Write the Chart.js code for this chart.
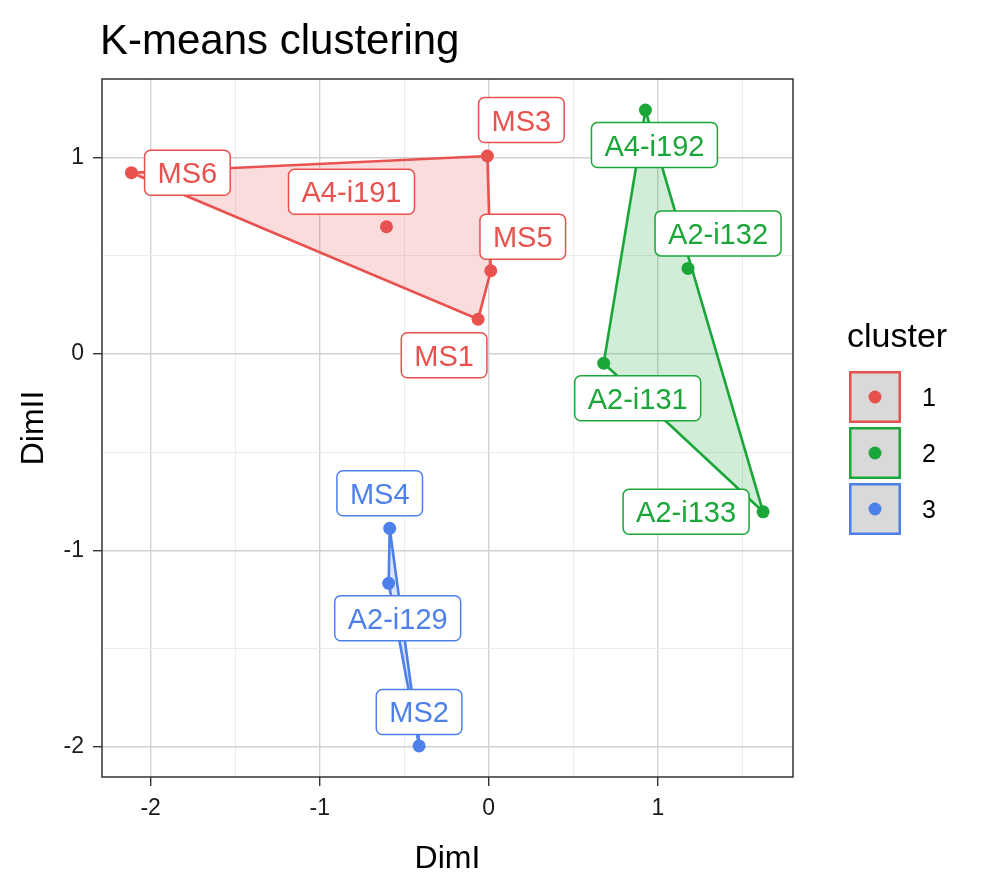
<!DOCTYPE html>
<html>
<head>
<meta charset="utf-8">
<title>K-means clustering</title>
<script src="https://cdn.jsdelivr.net/npm/chart.js@4.4.0/dist/chart.umd.min.js"></script>
<style>
  html, body { margin: 0; padding: 0; background: #fff; }
  #wrap { width: 981px; height: 873px; }
</style>
</head>
<body>
<div id="wrap"><canvas id="kmeansChart"></canvas></div>
<script>
// values
const samples = ['MS6', 'MS3', 'A4-i191', 'MS5', 'MS1', 'A4-i192', 'A2-i132', 'A2-i131', 'A2-i133', 'MS4', 'A2-i129', 'MS2'];
const dimI  = [-2.114, -0.008, -0.605, 0.012, -0.063, 0.927, 1.179, 0.680, 1.623, -0.586, -0.592, -0.412];
const dimII = [0.923, 1.008, 0.648, 0.424, 0.177, 1.242, 0.436, -0.047, -0.803, -0.887, -1.167, -1.995];
const clusterOf = [1, 1, 1, 1, 1, 2, 2, 2, 2, 3, 3, 3];
const clusterIds = [1, 2, 3];
const gridX = [-2, -1.5, -1, -0.5, 0, 0.5, 1, 1.5];
const gridY = [-2, -1.5, -1, -0.5, 0, 0.5, 1];

const FONT = '"Liberation Sans", Arial, Helvetica, sans-serif';
const colors = { 1: '#E8514E', 2: '#1AA638', 3: '#4D80EB' };
const fills = { 1: 'rgba(232,81,78,0.2)', 2: 'rgba(26,166,56,0.2)', 3: 'rgba(77,128,235,0.2)' };

// label box centre relative to its point, in pixels (repel layout)
const labelOffsets = [[56, 0], [34, -36], [-35, -35], [32, -34], [-34, 36], [9, 35], [30, -35], [34, 35], [-77, 0], [-10, -35], [9, 35], [0, -34]];
const labelSegment = [true, false, false, false, false, true, false, false, false, false, false, true];

const isMajor = v => Math.abs(v - Math.round(v)) < 1e-6;

// convex hull (monotone chain)
function hull(pts) {
  const p = pts.slice().sort((a, b) => a.x - b.x || a.y - b.y);
  const cross = (o, a, b) => (a.x - o.x) * (b.y - o.y) - (a.y - o.y) * (b.x - o.x);
  const lower = [];
  for (const q of p) {
    while (lower.length >= 2 && cross(lower[lower.length - 2], lower[lower.length - 1], q) <= 0) lower.pop();
    lower.push(q);
  }
  const upper = [];
  for (const q of p.slice().reverse()) {
    while (upper.length >= 2 && cross(upper[upper.length - 2], upper[upper.length - 1], q) <= 0) upper.pop();
    upper.push(q);
  }
  upper.pop(); lower.pop();
  return lower.concat(upper);
}

const datasets = [];
clusterIds.forEach(c => {
  const pts = [];
  samples.forEach((s, i) => { if (clusterOf[i] === c) pts.push({ x: dimI[i], y: dimII[i] }); });
  const h = hull(pts);
  h.push(h[0]);
  datasets.push({
    type: 'line', label: 'hull ' + c, data: h,
    borderColor: colors[c], backgroundColor: fills[c], borderWidth: 2.6,
    pointRadius: 0, fill: 'shape', tension: 0, order: 3
  });
  datasets.push({
    type: 'scatter', label: String(c), data: pts,
    backgroundColor: colors[c], borderWidth: 0, pointRadius: 6.5, order: 1
  });
});

function roundRect(ctx, x, y, w, h, r) {
  ctx.beginPath();
  ctx.moveTo(x + r, y);
  ctx.lineTo(x + w - r, y);
  ctx.arcTo(x + w, y, x + w, y + r, r);
  ctx.lineTo(x + w, y + h - r);
  ctx.arcTo(x + w, y + h, x + w - r, y + h, r);
  ctx.lineTo(x + r, y + h);
  ctx.arcTo(x, y + h, x, y + h - r, r);
  ctx.lineTo(x, y + r);
  ctx.arcTo(x, y, x + r, y, r);
  ctx.closePath();
}

const decorations = {
  id: 'decorations',
  afterDatasetsDraw(chart) {
    const { ctx, chartArea: a, scales: { x, y } } = chart;
    ctx.save();
    // panel border
    ctx.strokeStyle = '#333';
    ctx.lineWidth = 1.5;
    ctx.strokeRect(a.left, a.top, a.right - a.left, a.bottom - a.top);

    // point labels
    ctx.font = '29px ' + FONT;
    samples.forEach((name, i) => {
      const col = colors[clusterOf[i]];
      const px = x.getPixelForValue(dimI[i]);
      const py = y.getPixelForValue(dimII[i]);
      const cx = px + labelOffsets[i][0];
      const cy = py + labelOffsets[i][1];
      const w = ctx.measureText(name).width + 26;
      const h = 45;
      if (labelSegment[i]) {
        ctx.strokeStyle = col;
        ctx.lineWidth = 1.5;
        ctx.beginPath();
        ctx.moveTo(px, py);
        ctx.lineTo(cx, cy);
        ctx.stroke();
      }
      roundRect(ctx, cx - w / 2, cy - h / 2, w, h, 6);
      ctx.fillStyle = '#fff';
      ctx.fill();
      ctx.strokeStyle = col;
      ctx.lineWidth = 1.5;
      ctx.stroke();
      ctx.fillStyle = col;
      ctx.textAlign = 'center';
      ctx.textBaseline = 'alphabetic';
      ctx.fillText(name, cx, cy + 10.5);
    });
    ctx.restore();
  },
  afterDraw(chart) {
    const { ctx, chartArea: a } = chart;
    ctx.save();
    ctx.fillStyle = '#000';
    ctx.textBaseline = 'alphabetic';

    // title
    ctx.font = '42px ' + FONT;
    ctx.textAlign = 'left';
    ctx.fillText('K-means clustering', 100, 54);

    // axis titles
    ctx.font = '32px ' + FONT;
    ctx.textAlign = 'center';
    ctx.fillText('DimI', (a.left + a.right) / 2, 868);
    ctx.save();
    ctx.translate(43, (a.top + a.bottom) / 2);
    ctx.rotate(-Math.PI / 2);
    ctx.fillText('DimII', 0, 0);
    ctx.restore();

    // legend
    ctx.textAlign = 'left';
    ctx.font = '34px ' + FONT;
    ctx.fillText('cluster', 847, 347);
    clusterIds.forEach((c, k) => {
      const kx = 849, ky = 371 + k * 56, ks = 52;
      ctx.fillStyle = '#D9D9D9';
      ctx.fillRect(kx, ky, ks, ks);
      ctx.strokeStyle = colors[c];
      ctx.lineWidth = 2.5;
      ctx.strokeRect(kx + 1.25, ky + 1.25, ks - 2.5, ks - 2.5);
      ctx.fillStyle = colors[c];
      ctx.beginPath();
      ctx.arc(kx + ks / 2, ky + ks / 2, 6.5, 0, Math.PI * 2);
      ctx.fill();
      ctx.fillStyle = '#000';
      ctx.font = '25px ' + FONT;
      ctx.fillText(String(c), 922, ky + ks / 2 + 9);
    });
    ctx.restore();
  }
};

const gridOpts = {
  color: ctx => (ctx.tick && isMajor(ctx.tick.value)) ? '#D2D2D2' : '#ECECEC',
  lineWidth: ctx => (ctx.tick && isMajor(ctx.tick.value)) ? 1.4 : 1,
  tickColor: ctx => (ctx.tick && isMajor(ctx.tick.value)) ? '#333' : 'rgba(0,0,0,0)',
  tickLength: 9,
  drawTicks: true
};
const tickOpts = {
  callback: v => isMajor(v) ? String(Math.round(v)) : '',
  font: { family: FONT, size: 23 },
  color: '#1a1a1a',
  autoSkip: false,
  maxRotation: 0
};

new Chart(document.getElementById('kmeansChart').getContext('2d'), {
  type: 'scatter',
  data: { datasets: datasets },
  options: {
    responsive: true,
    maintainAspectRatio: false,
    animation: false,
    events: [],
    layout: { padding: { top: 79, right: 188, left: 0, bottom: 0 } },
    plugins: { legend: { display: false }, tooltip: { enabled: false }, title: { display: false } },
    scales: {
      x: {
        type: 'linear', min: -2.288, max: 1.80,
        afterBuildTicks: s => { s.ticks = gridX.map(v => ({ value: v })); },
        afterFit: s => { s.height = 96; },
        grid: gridOpts,
        border: { display: false },
        ticks: Object.assign({ padding: 9 }, tickOpts)
      },
      y: {
        type: 'linear', min: -2.153, max: 1.40,
        afterBuildTicks: s => { s.ticks = gridY.map(v => ({ value: v })); },
        afterFit: s => { s.width = 102; },
        grid: gridOpts,
        border: { display: false },
        ticks: Object.assign({ padding: 9 }, tickOpts)
      }
    }
  },
  plugins: [decorations]
});
</script>
</body>
</html>
